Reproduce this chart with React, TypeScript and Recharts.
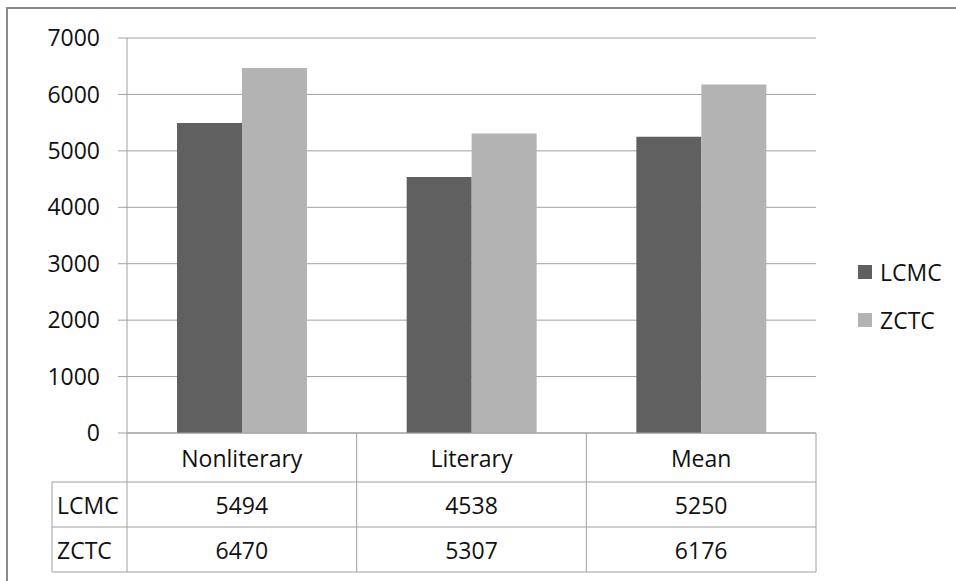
import React from "react";
import { BarChart, Bar, XAxis, YAxis, CartesianGrid, Legend } from "recharts";

// Corpus categories and per-corpus values
const categories = ["Nonliterary", "Literary", "Mean"];
const lcmcValues = [5494, 4538, 5250];
const zctcValues = [6470, 5307, 6176];
const yTicks = [0, 1000, 2000, 3000, 4000, 5000, 6000, 7000];

const seriesInfo = [
  { key: "LCMC", values: lcmcValues, color: "#606060" },
  { key: "ZCTC", values: zctcValues, color: "#b3b3b3" },
];

const data = categories.map((name, i) => ({
  name,
  LCMC: lcmcValues[i],
  ZCTC: zctcValues[i],
}));

const FONT = "'Open Sans', sans-serif";
const FONT_SIZE = 23;
const TEXT_COLOR = "#111";
const LINE_COLOR = "#a0a0a0";

const CHART_W = 956;
const CHART_H = 581;
const MARGIN = { top: 38, right: 140, bottom: 0, left: 0 };
const X_AXIS_H = 148;
const Y_AXIS_W = 127;
const PLOT_W = CHART_W - MARGIN.left - MARGIN.right - Y_AXIS_W;

// Data-table geometry below the axis
const HEADER_H = 49;
const ROW_H = 45;
const LABEL_COL_W = 75;

// Each category tick draws its own column of the data table
const TableColumnTick = (props: any) => {
  const { x, y, index, payload } = props;
  const half = PLOT_W / categories.length / 2;
  const left = x - half;
  const right = x + half;
  const bottom = y + HEADER_H + ROW_H * seriesInfo.length;
  const rowLines = seriesInfo.map((_, r) => y + HEADER_H + ROW_H * (r + 1));
  return (
    <g>
      {index === 0 && (
        <g>
          <line x1={left} y1={y} x2={left} y2={bottom} stroke={LINE_COLOR} />
          <line x1={left - LABEL_COL_W} y1={y + HEADER_H} x2={left - LABEL_COL_W} y2={bottom} stroke={LINE_COLOR} />
          <line x1={left - LABEL_COL_W} y1={y + HEADER_H} x2={left} y2={y + HEADER_H} stroke={LINE_COLOR} />
          {rowLines.map((ly, r) => (
            <line key={r} x1={left - LABEL_COL_W} y1={ly} x2={left} y2={ly} stroke={LINE_COLOR} />
          ))}
          {seriesInfo.map((s, r) => (
            <text
              key={s.key}
              x={left - LABEL_COL_W + 5}
              y={y + HEADER_H + ROW_H * r + ROW_H / 2}
              dominantBaseline="central"
              fontFamily={FONT}
              fontSize={FONT_SIZE}
              fill={TEXT_COLOR}
            >
              {s.key}
            </text>
          ))}
        </g>
      )}
      <line x1={right} y1={y} x2={right} y2={bottom} stroke={LINE_COLOR} />
      <line x1={left} y1={y + HEADER_H} x2={right} y2={y + HEADER_H} stroke={LINE_COLOR} />
      {rowLines.map((ly, r) => (
        <line key={r} x1={left} y1={ly} x2={right} y2={ly} stroke={LINE_COLOR} />
      ))}
      <text
        x={x}
        y={y + HEADER_H / 2}
        textAnchor="middle"
        dominantBaseline="central"
        fontFamily={FONT}
        fontSize={FONT_SIZE}
        fill={TEXT_COLOR}
      >
        {payload.value}
      </text>
      {seriesInfo.map((s, r) => (
        <text
          key={s.key}
          x={x}
          y={y + HEADER_H + ROW_H * r + ROW_H / 2}
          textAnchor="middle"
          dominantBaseline="central"
          fontFamily={FONT}
          fontSize={FONT_SIZE}
          fill={TEXT_COLOR}
        >
          {s.values[index]}
        </text>
      ))}
    </g>
  );
};

const LegendContent = (props: any) => {
  const { payload } = props;
  return (
    <div>
      {(payload || []).map((entry: any) => (
        <div
          key={entry.value}
          style={{ height: 48, display: "flex", alignItems: "center" }}
        >
          <span
            style={{
              display: "inline-block",
              width: 14,
              height: 14,
              background: entry.color,
              marginRight: 8,
            }}
          />
          <span style={{ fontFamily: FONT, fontSize: FONT_SIZE, color: TEXT_COLOR, lineHeight: 1 }}>
            {entry.value}
          </span>
        </div>
      ))}
    </div>
  );
};

export default function App() {
  return (
    <div style={{ position: "absolute", left: 0, top: 0, width: CHART_W, height: CHART_H, background: "#fff" }}>
      <div
        style={{
          position: "absolute",
          left: 6,
          top: 7,
          width: CHART_W - 6,
          height: CHART_H - 7,
          borderTop: "2px solid #8a8a8a",
          borderLeft: "2px solid #8a8a8a",
          boxSizing: "border-box",
        }}
      />
      <div style={{ position: "absolute", left: 0, top: 0 }}>
        <BarChart
          width={CHART_W}
          height={CHART_H}
          data={data}
          margin={MARGIN}
          barGap={0}
          barSize={65}
        >
          <CartesianGrid vertical={false} stroke={LINE_COLOR} />
          <XAxis
            dataKey="name"
            height={X_AXIS_H}
            axisLine={{ stroke: LINE_COLOR }}
            tickLine={false}
            tickSize={0}
            tickMargin={0}
            interval={0}
            tick={<TableColumnTick />}
          />
          <YAxis
            width={Y_AXIS_W}
            domain={[0, 7000]}
            ticks={yTicks}
            axisLine={{ stroke: LINE_COLOR }}
            tickLine={{ stroke: LINE_COLOR }}
            tickSize={9}
            tickMargin={18}
            tick={{ fontFamily: FONT, fontSize: FONT_SIZE, fill: TEXT_COLOR }}
          />
          <Legend
            layout="vertical"
            align="center"
            verticalAlign="middle"
            wrapperStyle={{ left: 858, top: 248, width: 98 }}
            content={<LegendContent />}
          />
          {seriesInfo.map((s) => (
            <Bar key={s.key} dataKey={s.key} fill={s.color} isAnimationActive={false} />
          ))}
        </BarChart>
      </div>
    </div>
  );
}
